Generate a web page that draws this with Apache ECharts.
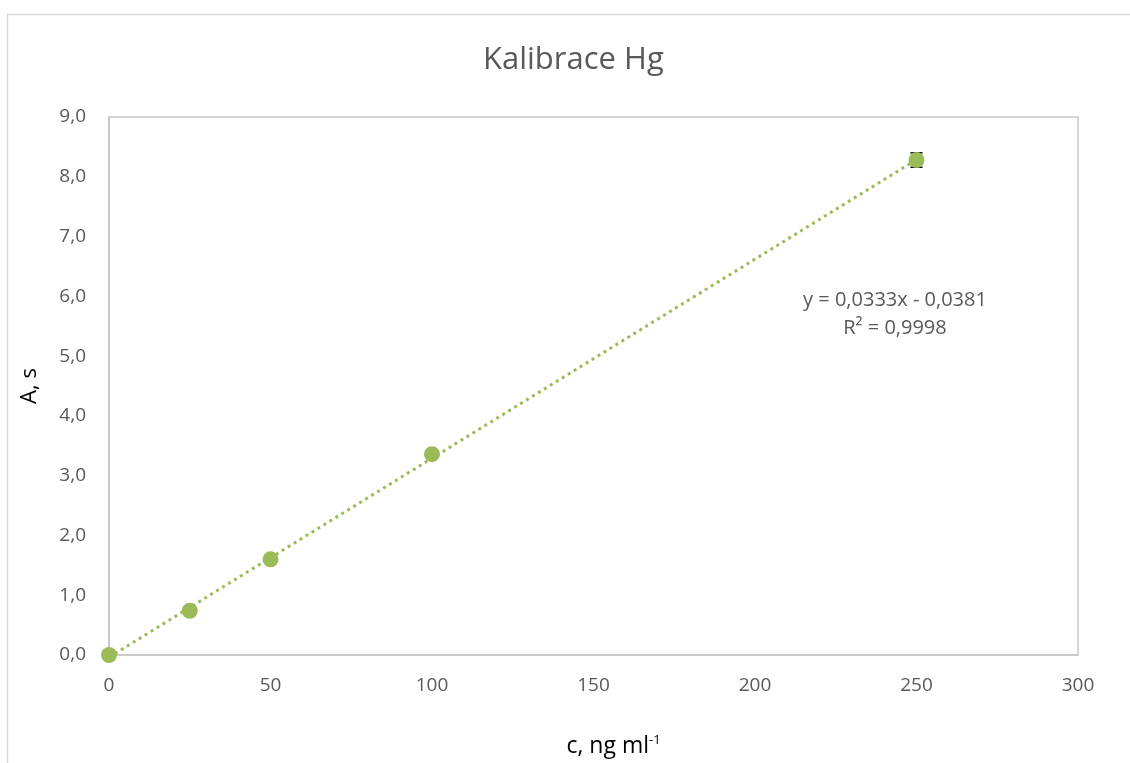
<!DOCTYPE html>
<html>
<head>
<meta charset="utf-8">
<script src="https://cdn.jsdelivr.net/npm/echarts@6/dist/echarts.min.js"></script>
<style>
  html, body { margin: 0; padding: 0; background: #fff; }
  #chart { width: 1130px; height: 763px; }
</style>
</head>
<body>
<div id="chart"></div>
<script>
// calibration data
var conc = [0, 25, 50, 100, 250];
var absorb = [0.0, 0.74, 1.60, 3.36, 8.28];
var errs = [0, 0, 0, 0, 0.12];
// linear trend (from the equation shown in the chart)
var trendX = [0, 250];
var trendY = [-0.0381, 8.2869];
var eqText = 'y = 0,0333x - 0,0381';
var r2Text = 'R² = 0,9998';

var green = '#9bbb59';
var font = '"Open Sans", "Noto Sans", sans-serif';

var dom = document.getElementById('chart');
var myChart = echarts.init(dom, null, { renderer: 'canvas' });

var pts = conc.map(function (c, i) { return [c, absorb[i]]; });
var errData = conc.map(function (c, i) { return [c, absorb[i] - errs[i], absorb[i] + errs[i]]; });
var trend = trendX.map(function (x, i) { return [x, trendY[i]]; });

var option = {
    backgroundColor: '#fff',
    animation: false,
    title: {
        text: 'Kalibrace Hg',
        left: 478,
        top: 40,
        textStyle: { fontFamily: font, fontSize: 31, fontWeight: 'normal', color: '#595959' }
    },
    grid: {
        left: 109,
        right: 52,
        top: 117,
        bottom: 106,
        show: true,
        borderColor: '#c6c6c6',
        borderWidth: 1.5,
        containLabel: false
    },
    xAxis: {
        type: 'value',
        min: 0,
        max: 300,
        interval: 50,
        splitLine: { show: false },
        axisLine: { show: true, lineStyle: { color: '#c6c6c6', width: 1.5 } },
        axisTick: { show: false },
        axisLabel: { fontFamily: font, fontSize: 19, color: '#595959', margin: 21 },
        name: '{n|c, ng ml}{s|-1}',
        nameLocation: 'middle',
        nameGap: 79,
        nameTextStyle: {
            padding: [0, 0, 0, 40],
            rich: {
                n: { fontFamily: font, fontSize: 23, color: '#000' },
                s: { fontFamily: font, fontSize: 13, color: '#000', verticalAlign: 'top', padding: [0, 0, 12, 0] }
            }
        }
    },
    yAxis: {
        type: 'value',
        min: 0,
        max: 9,
        interval: 1,
        splitLine: { show: false },
        axisLine: { show: true, lineStyle: { color: '#c6c6c6', width: 1.5 } },
        axisTick: { show: false },
        axisLabel: {
            fontFamily: font, fontSize: 19, color: '#595959', margin: 23,
            formatter: function (v) { return v.toFixed(1).replace('.', ','); }
        },
        name: 'A, s',
        nameLocation: 'middle',
        nameGap: 68,
        nameRotate: 90,
        nameTextStyle: { fontFamily: font, fontSize: 22, color: '#000' }
    },
    graphic: [
        {
            type: 'rect',
            shape: { x: 7.5, y: 14.5, width: 1140, height: 770 },
            style: { fill: null, stroke: '#d9d9d9', lineWidth: 1.5 },
            silent: true,
            z: -1
        },
        {
            type: 'text',
            x: 895,
            y: 300,
            style: { text: eqText, font: '20px ' + font, fill: '#595959', align: 'center', verticalAlign: 'middle' }
        },
        {
            type: 'text',
            x: 895,
            y: 328,
            style: { text: r2Text, font: '20px ' + font, fill: '#595959', align: 'center', verticalAlign: 'middle' }
        }
    ],
    series: [
        {
            name: 'trend',
            type: 'line',
            data: trend,
            symbol: 'none',
            lineStyle: { color: green, width: 3, type: [3, 4] },
            z: 1
        },
        {
            name: 'err',
            type: 'custom',
            data: errData,
            z: 2,
            renderItem: function (params, api) {
                if (api.value(2) - api.value(1) <= 0) return null;
                var lo = api.coord([api.value(0), api.value(1)]);
                var hi = api.coord([api.value(0), api.value(2)]);
                var w = 6;
                var st = { stroke: '#000', lineWidth: 1.5 };
                return {
                    type: 'group',
                    children: [
                        { type: 'line', shape: { x1: hi[0], y1: hi[1], x2: lo[0], y2: lo[1] }, style: st },
                        { type: 'line', shape: { x1: hi[0] - w, y1: hi[1], x2: hi[0] + w, y2: hi[1] }, style: st },
                        { type: 'line', shape: { x1: lo[0] - w, y1: lo[1], x2: lo[0] + w, y2: lo[1] }, style: st }
                    ]
                };
            }
        },
        {
            name: 'Hg',
            type: 'scatter',
            data: pts,
            symbolSize: 16,
            itemStyle: { color: green, opacity: 1 },
            z: 3
        }
    ]
};

myChart.setOption(option);
window.onresize = function () { myChart.resize(); };
</script>
</body>
</html>
